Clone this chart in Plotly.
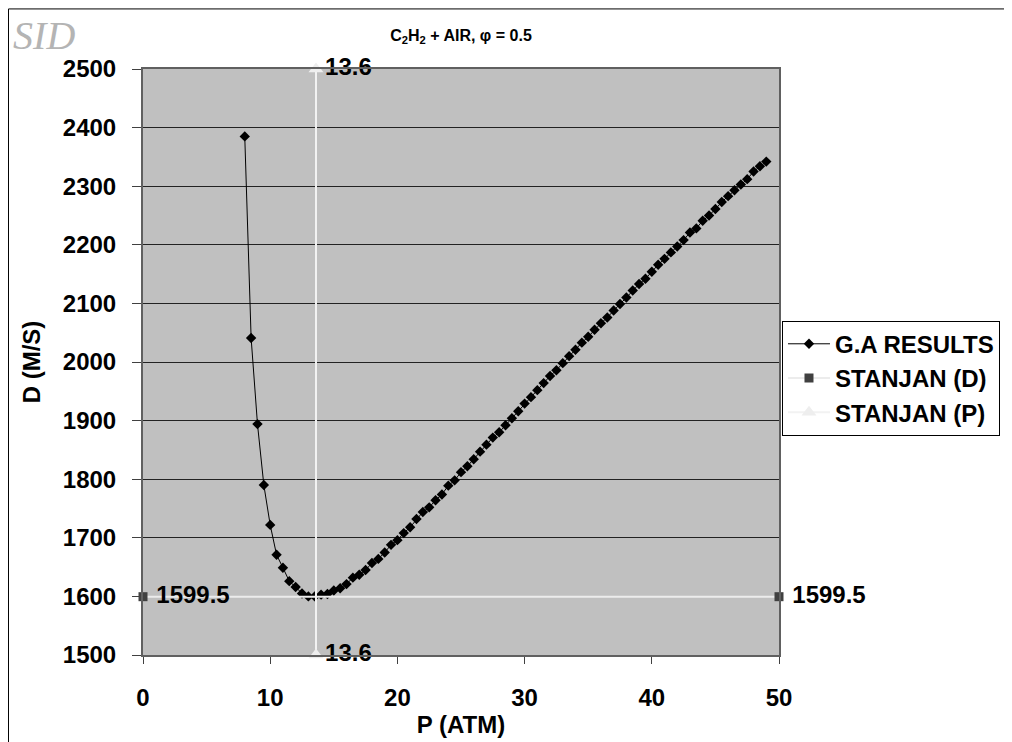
import plotly.graph_objects as go

# ---- data ----
p_atm = [8.0, 8.5, 9.0, 9.5, 10.0, 10.5, 11.0, 11.5, 12.0, 12.5, 13.0, 13.5, 14.0, 14.5,
         15.0, 15.5, 16.0, 16.5, 17.0, 17.5, 18.0, 18.5, 19.0, 19.5, 20.0, 20.5, 21.0, 21.5,
         22.0, 22.5, 23.0, 23.5, 24.0, 24.5, 25.0, 25.5, 26.0, 26.5, 27.0, 27.5, 28.0, 28.5,
         29.0, 29.5, 30.0, 30.5, 31.0, 31.5, 32.0, 32.5, 33.0, 33.5, 34.0, 34.5, 35.0, 35.5,
         36.0, 36.5, 37.0, 37.5, 38.0, 38.5, 39.0, 39.5, 40.0, 40.5, 41.0, 41.5, 42.0, 42.5,
         43.0, 43.5, 44.0, 44.5, 45.0, 45.5, 46.0, 46.5, 47.0, 47.5, 48.0, 48.5, 49.0]
d_ms = [2385, 2041, 1894, 1790, 1722, 1671, 1649, 1626, 1616, 1605, 1600, 1600, 1603, 1604,
        1610, 1614, 1621, 1632, 1637, 1645, 1657, 1664, 1675, 1688, 1696, 1708, 1718, 1732,
        1744, 1752, 1764, 1774, 1789, 1798, 1812, 1822, 1834, 1847, 1859, 1871, 1880, 1892,
        1904, 1916, 1929, 1940, 1952, 1964, 1976, 1986, 1998, 2010, 2021, 2033, 2043, 2055,
        2066, 2076, 2088, 2099, 2110, 2122, 2133, 2142, 2154, 2166, 2176, 2187, 2197, 2208,
        2221, 2228, 2241, 2250, 2261, 2273, 2283, 2293, 2303, 2312, 2325, 2334, 2342]

stanjan_d_x = [0, 50]
stanjan_d_y = [1599.5, 1599.5]
stanjan_d_labels = ["1599.5", "1599.5"]

stanjan_p_x = [13.6, 13.6]
stanjan_p_y = [1500, 2500]
stanjan_p_labels = ["13.6", "13.6"]

x_ticks = [0, 10, 20, 30, 40, 50]
y_ticks = [1500, 1600, 1700, 1800, 1900, 2000, 2100, 2200, 2300, 2400, 2500]

FONT = "Arial, Liberation Sans, sans-serif"
BOLD24 = dict(family=FONT, size=24, color="black", weight="bold")

fig = go.Figure()

fig.add_trace(go.Scatter(
    x=p_atm, y=d_ms, name="G.A RESULTS", mode="lines+markers",
    line=dict(color="black", width=1),
    marker=dict(symbol="diamond", size=8, color="black"),
    legendrank=1,
))
fig.add_trace(go.Scatter(
    x=stanjan_d_x, y=stanjan_d_y, name="STANJAN (D)", mode="lines+markers+text",
    text=["\u00a0" + t for t in stanjan_d_labels], textposition="middle right", textfont=BOLD24,
    line=dict(color="#ececec", width=2),
    marker=dict(symbol="square", size=9, color="#404040"),
    cliponaxis=False, legendrank=2,
))
fig.add_trace(go.Scatter(
    x=stanjan_p_x, y=stanjan_p_y, name="STANJAN (P)", mode="lines+markers+text",
    text=stanjan_p_labels, textposition="middle right", textfont=BOLD24,
    line=dict(color="#f2f2f2", width=2),
    marker=dict(symbol="triangle-up", size=13, color="#eeeeee"),
    cliponaxis=False, legendrank=3,
))

# outer frame
fig.add_shape(type="rect", xref="paper", yref="paper",
              x0=-0.2115, x1=1.40, y0=-0.17, y1=1.1025,
              line=dict(color="black", width=1), fillcolor="rgba(0,0,0,0)", layer="below")

# watermark
fig.add_annotation(text="of SID", xref="paper", yref="paper", x=-0.103, y=1.057,
                   xanchor="right", yanchor="middle", showarrow=False,
                   font=dict(family="Liberation Serif, Times New Roman, serif", size=40,
                             color="#b4b4b4", style="italic"))

fig.update_layout(
    width=1004, height=734,
    margin=dict(l=135, r=233, t=61, b=87, autoexpand=False),
    paper_bgcolor="white", plot_bgcolor="#c0c0c0",
    title=dict(text="C<sub>2</sub>H<sub>2</sub> + AIR, φ = 0.5", x=0.5, xref="paper",
               y=1 - 27 / 734, yref="container", xanchor="center", yanchor="middle",
               font=dict(family=FONT, size=16, color="black", weight="bold")),
    showlegend=True,
    legend=dict(x=1.0047, y=0.5705, xanchor="left", yanchor="top",
                bgcolor="white", bordercolor="black", borderwidth=1,
                font=dict(family=FONT, size=24, color="black", weight="bold"),
                tracegroupgap=0, itemwidth=42),
    font=dict(family=FONT),
)

fig.update_xaxes(
    range=[0, 50], tickvals=x_ticks, ticktext=[str(v) for v in x_ticks],
    showgrid=False, zeroline=False, automargin=False,
    showline=True, linecolor="#606060", linewidth=2, mirror=True,
    ticks="outside", ticklen=7, tickcolor="#404040", tickwidth=1,
    tickfont=BOLD24, ticklabelstandoff=13,
    title=dict(text="P (ATM)", font=BOLD24, standoff=6),
)
fig.update_yaxes(
    range=[1500, 2500], tickvals=y_ticks, ticktext=[str(v) for v in y_ticks],
    showgrid=True, gridcolor="#222222", gridwidth=1, zeroline=False, automargin=False,
    showline=True, linecolor="#606060", linewidth=2, mirror=True,
    ticks="outside", ticklen=9, tickcolor="#404040", tickwidth=1,
    tickfont=BOLD24, ticklabelstandoff=11,
    title=dict(text="D (M/S)", font=BOLD24, standoff=15),
)

fig.write_html("out.html")
